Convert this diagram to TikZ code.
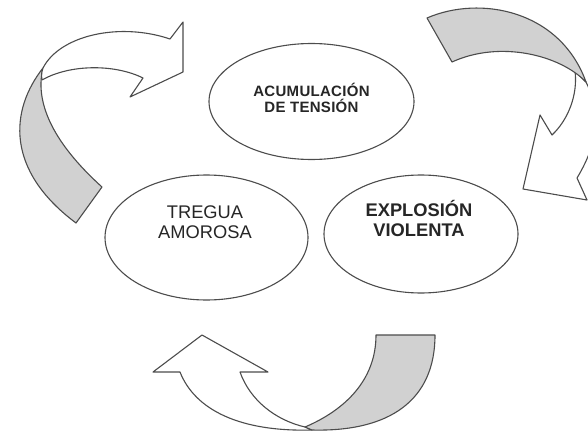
\documentclass[tikz,border=0pt]{standalone}
\usepackage{fontspec}
\setmainfont{Liberation Sans}
\usetikzlibrary{shapes.geometric}
\tikzset{
  edgecol/.style={draw=black!70, line width=1.1pt, line join=round},
  oval/.style={ellipse, edgecol, fill=white, inner sep=0pt},
  bandgray/.style={edgecol, fill=black!18},
  bandwhite/.style={edgecol, fill=white},
  lbl/.style={anchor=base, inner sep=0pt, text=black!85}
}
\begin{document}
\begin{tikzpicture}[x=1pt,y=-1pt]
\useasboundingbox (0,0) rectangle (588,433);

% ellipses
\node[oval, minimum width=205pt, minimum height=116pt] (acu) at (311.5,101.5) {};
\node[oval, minimum width=203pt, minimum height=125pt] (tre) at (206.5,237.5) {};
\node[oval, minimum width=194pt, minimum height=118pt] (exp) at (421,234) {};

% labels
\node[lbl, font=\fontsize{15}{16}\selectfont\bfseries\addfontfeatures{LetterSpace=2}] (acu1) at (311.5,97) {ACUMULACIÓN};
\node[lbl, font=\fontsize{15}{16}\selectfont\bfseries\addfontfeatures{LetterSpace=2}] (acu2) at (311.5,112.5) {DE TENSIÓN};
\node[lbl, font=\fontsize{18.3}{19}\selectfont] (tre1) at (205,218) {TREGUA};
\node[lbl, font=\fontsize{18.3}{19}\selectfont] (tre2) at (205,238) {AMOROSA};
\node[lbl, font=\fontsize{18.3}{19}\selectfont\bfseries] (exp1) at (419,216) {EXPLOSIÓN};
\node[lbl, font=\fontsize{18.3}{19}\selectfont\bfseries] (exp2) at (419,236) {VIOLENTA};

% top-left curved arrow
\path[bandgray] (43,68) .. controls (10,110) and (5,170) .. (76,223)
  -- (102,187) .. controls (50,140) and (35,100) .. (43,68) -- cycle;
\path[bandwhite] (43,68) .. controls (60,35) and (120,22) .. (170,39)
  -- (183,22) -- (183,72) -- (130,97) -- (143,78)
  .. controls (115,64) and (70,64) .. (42,80)
  .. controls (41,75) and (42,71) .. (43,68) -- cycle;

% top-right curved arrow
\path[bandwhite] (575,71) .. controls (578,95) and (568,120) .. (552,135)
  -- (540,115) -- (523,189) -- (587,200) -- (577,178)
  .. controls (600,140) and (600,110) .. (586,82) -- cycle;
\path[bandgray] (427,18) .. controls (480,-5) and (560,10) .. (586,82)
  .. controls (560,55) and (500,40) .. (452,62) -- cycle;

% bottom curved arrow
\path[bandwhite] (312,430) .. controls (240,432) and (195,410) .. (180,372)
  -- (153,372) -- (202,335) -- (268,372) -- (240,372)
  .. controls (250,400) and (275,420) .. (305,427) -- cycle;
\path[bandgray] (376,335) -- (435,335)
  .. controls (435,400) and (390,432) .. (312,430)
  -- (305,427) .. controls (345,410) and (376,380) .. (376,335) -- cycle;
\end{tikzpicture}
\end{document}
